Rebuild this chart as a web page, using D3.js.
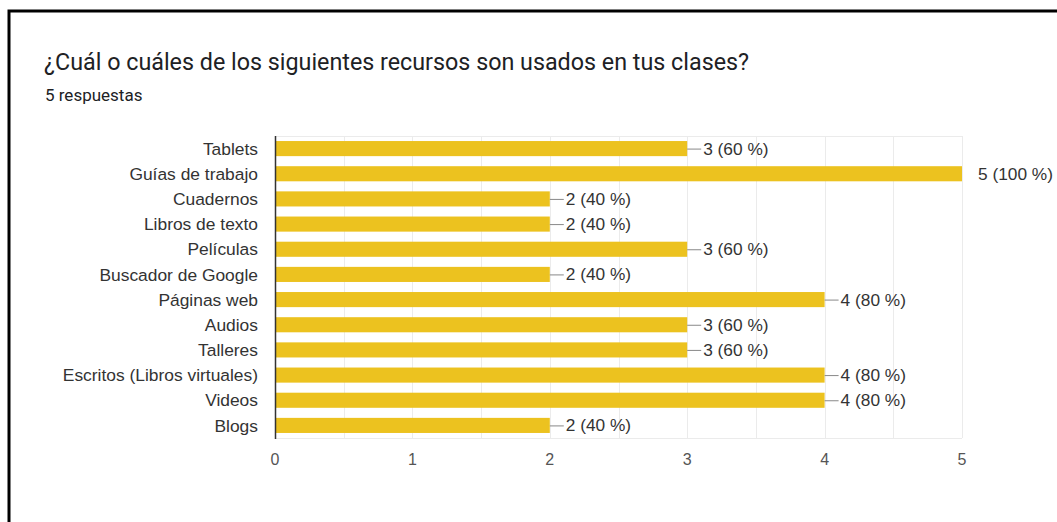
<!doctype html>
<html lang="es">
<head>
<meta charset="utf-8">
<title>recursos</title>
<script src="https://d3js.org/d3.v7.min.js"></script>
<style>
    body { margin: 0; background: #fff; }
    svg text { font-family: Arial, "Liberation Sans", sans-serif; }
    .title { font-family: Roboto, "Noto Sans", sans-serif; }
</style>
</head>
<body>
<svg width="1057" height="522"></svg>
<script>
    // data
    var categories = ["Tablets", "Guías de trabajo", "Cuadernos", "Libros de texto", "Películas",
        "Buscador de Google", "Páginas web", "Audios", "Talleres", "Escritos (Libros virtuales)",
        "Videos", "Blogs"];
    var counts = [3, 5, 2, 2, 3, 2, 4, 3, 3, 4, 4, 2];
    var totalAnswers = 5;
    var xTicks = [0, 1, 2, 3, 4, 5];

    var svg = d3.select("svg"),
        width = +svg.attr("width"),
        height = +svg.attr("height");

    var plotLeft = 275, plotRight = 962, plotTop = 136, plotBottom = 438;

    svg.append("rect").attr("width", width).attr("height", height).attr("fill", "#fff");

    // black frame (only top and left show in the picture)
    svg.append("path")
        .attr("d", "M9," + height + "V11H" + width)
        .attr("fill", "none")
        .attr("stroke", "#000")
        .attr("stroke-width", 3);

    svg.append("text")
        .attr("class", "title")
        .attr("x", 44).attr("y", 70)
        .attr("font-size", 23.3)
        .attr("fill", "#202124")
        .text("¿Cuál o cuáles de los siguientes recursos son usados en tus clases?");

    svg.append("text")
        .attr("class", "title")
        .attr("x", 45).attr("y", 101)
        .attr("font-size", 17)
        .attr("fill", "#202124")
        .text(totalAnswers + " respuestas");

    var x = d3.scaleLinear().domain([0, 5]).range([plotLeft, plotRight]);
    var y = d3.scaleBand().domain(categories).range([plotTop, plotBottom]).paddingInner(0.4).paddingOuter(0.2);

    // gridlines every half unit
    var grid = svg.append("g");
    grid.selectAll("line")
        .data(d3.range(0.5, 5.01, 0.5))
        .enter().append("line")
        .attr("x1", function (d) { return Math.round(x(d)) + 0.5; })
        .attr("x2", function (d) { return Math.round(x(d)) + 0.5; })
        .attr("y1", plotTop).attr("y2", plotBottom)
        .attr("stroke", "#ebebeb");
    grid.append("line")
        .attr("x1", plotLeft).attr("x2", plotRight)
        .attr("y1", plotTop + 0.5).attr("y2", plotTop + 0.5)
        .attr("stroke", "#ebebeb");
    grid.append("line")
        .attr("x1", plotLeft).attr("x2", plotRight)
        .attr("y1", plotBottom + 0.5).attr("y2", plotBottom + 0.5)
        .attr("stroke", "#ebebeb");

    // bars
    svg.append("g")
        .selectAll("rect")
        .data(counts)
        .enter().append("rect")
        .attr("x", x(0))
        .attr("y", function (d, i) { return y(categories[i]); })
        .attr("width", function (d) { return x(d) - x(0); })
        .attr("height", y.bandwidth())
        .attr("fill", "#ecc21f");

    // axis line at zero
    svg.append("line")
        .attr("x1", plotLeft + 0.5).attr("x2", plotLeft + 0.5)
        .attr("y1", plotTop).attr("y2", plotBottom + 1)
        .attr("stroke", "#333").attr("stroke-width", 1.5);

    // category labels
    svg.append("g")
        .selectAll("text")
        .data(categories)
        .enter().append("text")
        .attr("x", plotLeft - 17)
        .attr("y", function (d) { return y(d) + y.bandwidth() / 2; })
        .attr("dy", "0.35em")
        .attr("text-anchor", "end")
        .attr("font-size", 17.4)
        .attr("fill", "#333")
        .text(function (d) { return d; });

    // value labels with leader lines
    var lab = svg.append("g").selectAll("g")
        .data(counts)
        .enter().append("g")
        .attr("transform", function (d, i) {
            return "translate(" + x(d) + "," + (y(categories[i]) + y.bandwidth() / 2) + ")";
        });
    lab.append("line")
        .attr("x1", 0)
        .attr("x2", function (d) { return Math.max(0, Math.min(14, plotRight - x(d))); })
        .attr("y1", 0.5).attr("y2", 0.5)
        .attr("stroke", "#888");
    lab.append("text")
        .attr("x", 16)
        .attr("dy", "0.35em")
        .attr("font-size", 17.3)
        .attr("fill", "#333")
        .text(function (d) { return d + " (" + Math.round(d / totalAnswers * 100) + " %)"; });

    // x ticks
    svg.append("g")
        .selectAll("text")
        .data(xTicks)
        .enter().append("text")
        .attr("x", function (d) { return x(d); })
        .attr("y", 459)
        .attr("dy", "0.35em")
        .attr("text-anchor", "middle")
        .attr("font-size", 16)
        .attr("fill", "#555")
        .text(function (d) { return d; });
</script>
</body>
</html>
